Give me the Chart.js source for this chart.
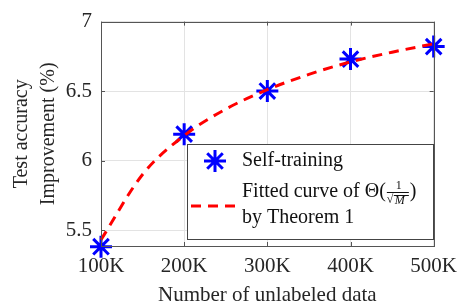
<!DOCTYPE html>
<html>
<head>
<meta charset="utf-8">
<script src="https://cdn.jsdelivr.net/npm/chart.js@4.4.1/dist/chart.umd.min.js"></script>
<style>
  html, body { margin: 0; padding: 0; background: #fff; }
  #wrap { width: 465px; height: 308px; }
</style>
</head>
<body>
<div id="wrap"><canvas id="accChart" width="465" height="308"></canvas></div>
<script>
// values in thousands of unlabeled samples
const xValues = [100, 200, 300, 400, 500];
const selfTraining = [5.38, 6.19, 6.50, 6.73, 6.82];
// fitted curve
const fitX = [100, 150, 200, 250, 300, 350, 400, 450, 500];
const fitY = [5.43, 5.90, 6.18, 6.37, 6.51, 6.62, 6.71, 6.78, 6.84];
const xTickLabels = ['100K', '200K', '300K', '400K', '500K'];
const yTicks = [5.5, 6, 6.5, 7];
const yTickLabels = ['5.5', '6', '6.5', '7'];

const labelSelf = 'Self-training';
const labelFitA = 'Fitted curve of \u0398(';
const labelFitB = 'by Theorem 1';

const serif = '"Liberation Serif", "Times New Roman", serif';
const textColor = '#262626';

const boxPlugin = {
    id: 'boxPlugin',
    afterDraw(chart) {
        const ctx = chart.ctx;
        const a = chart.chartArea;
        const xs = chart.scales.x, ys = chart.scales.y;
        ctx.save();
        // box + inward ticks
        ctx.strokeStyle = '#555';
        ctx.lineWidth = 1;
        ctx.strokeRect(Math.round(a.left) + 0.5, Math.round(a.top) + 0.5,
            Math.round(a.right - a.left), Math.round(a.bottom - a.top));
        ctx.beginPath();
        xValues.forEach(v => {
            const px = Math.round(xs.getPixelForValue(v)) + 0.5;
            ctx.moveTo(px, a.bottom); ctx.lineTo(px, a.bottom - 4);
            ctx.moveTo(px, a.top); ctx.lineTo(px, a.top + 4);
        });
        yTicks.forEach(v => {
            const py = Math.round(ys.getPixelForValue(v)) + 0.5;
            ctx.moveTo(a.left, py); ctx.lineTo(a.left + 4, py);
            ctx.moveTo(a.right, py); ctx.lineTo(a.right - 4, py);
        });
        ctx.stroke();

        // legend
        const lx = 187.5, ly = 144.5, lw = 246, lh = 95;
        ctx.fillStyle = '#fff';
        ctx.fillRect(lx, ly, lw, lh);
        ctx.strokeStyle = '#444';
        ctx.strokeRect(lx, ly, lw, lh);

        ctx.strokeStyle = '#0000ff';
        ctx.lineWidth = 3;
        Chart.helpers.drawPoint(ctx, { pointStyle: 'star', radius: 11, rotation: 0, borderWidth: 3 }, 215, 161);

        ctx.strokeStyle = '#ff0000';
        ctx.lineWidth = 3;
        ctx.setLineDash([10, 7]);
        ctx.beginPath();
        ctx.moveTo(191, 206); ctx.lineTo(240, 206);
        ctx.stroke();
        ctx.setLineDash([]);

        ctx.fillStyle = '#111';
        ctx.font = '20px ' + serif;
        ctx.textBaseline = 'middle';
        ctx.textAlign = 'left';
        ctx.fillText(labelSelf, 242, 161);
        ctx.fillText(labelFitA, 242, 192);
        ctx.fillText(labelFitB, 242, 218);

        // fraction 1 / sqrt(M)
        const fx = 242 + ctx.measureText(labelFitA).width + 1;
        const fw = 22;
        ctx.lineWidth = 1;
        ctx.strokeStyle = '#111';
        ctx.beginPath();
        ctx.moveTo(fx, 192.5); ctx.lineTo(fx + fw, 192.5);
        ctx.stroke();
        ctx.font = '12px ' + serif;
        ctx.textAlign = 'center';
        ctx.fillText('1', fx + fw / 2 + 1, 186);
        ctx.textAlign = 'left';
        ctx.fillText('\u221A', fx, 200);
        ctx.font = 'italic 12px ' + serif;
        ctx.fillText('M', fx + 8, 201);
        ctx.beginPath();
        ctx.moveTo(fx + 7, 195.5); ctx.lineTo(fx + fw, 195.5);
        ctx.stroke();
        ctx.font = '20px ' + serif;
        ctx.fillText(')', fx + fw + 1, 192);
        ctx.restore();
    }
};

const ctx = document.getElementById('accChart').getContext('2d');
const accChart = new Chart(ctx, {
    type: 'line',
    data: {
        datasets: [{
            label: 'Fitted curve',
            data: fitX.map((x, i) => ({ x: x, y: fitY[i] })),
            borderColor: '#ff0000',
            borderWidth: 3,
            borderDash: [10, 7],
            pointRadius: 0,
            fill: false,
            cubicInterpolationMode: 'monotone',
            clip: false
        }, {
            label: labelSelf,
            data: xValues.map((x, i) => ({ x: x, y: selfTraining[i] })),
            showLine: false,
            pointStyle: 'star',
            pointRadius: 11,
            pointBorderWidth: 3,
            borderColor: '#0000ff',
            backgroundColor: '#0000ff',
            clip: false
        }]
    },
    options: {
        responsive: false,
        animation: false,
        layout: { padding: { top: 18, right: 31, left: 0, bottom: 0 } },
        plugins: {
            legend: { display: false },
            tooltip: { enabled: false }
        },
        scales: {
            x: {
                type: 'linear',
                min: 100,
                max: 500,
                afterBuildTicks: s => { s.ticks = xValues.map(v => ({ value: v })); },
                afterFit: s => { s.height = 62; },
                ticks: {
                    callback: (v, i) => xTickLabels[i],
                    font: { family: serif, size: 21 },
                    color: textColor,
                    padding: 8,
                    maxRotation: 0
                },
                grid: { color: '#e3e3e3', drawTicks: false },
                border: { display: false },
                title: {
                    display: true,
                    text: 'Number of unlabeled data',
                    font: { family: serif, size: 21 },
                    color: textColor,
                    padding: { top: 0, bottom: 0 }
                }
            },
            y: {
                min: 5.385,
                max: 7,
                afterBuildTicks: s => { s.ticks = yTicks.map(v => ({ value: v })); },
                afterFit: s => { s.width = 101; },
                ticks: {
                    callback: (v, i) => yTickLabels[i],
                    font: { family: serif, size: 21 },
                    color: textColor,
                    padding: 9
                },
                grid: { color: '#e3e3e3', drawTicks: false },
                border: { display: false },
                title: {
                    display: true,
                    text: ['Test accuracy', 'Improvement (%)'],
                    font: { family: serif, size: 20, lineHeight: 1.35 },
                    color: textColor,
                    padding: { top: 8, bottom: 4 }
                }
            }
        }
    },
    plugins: [boxPlugin]
});
</script>
</body>
</html>
